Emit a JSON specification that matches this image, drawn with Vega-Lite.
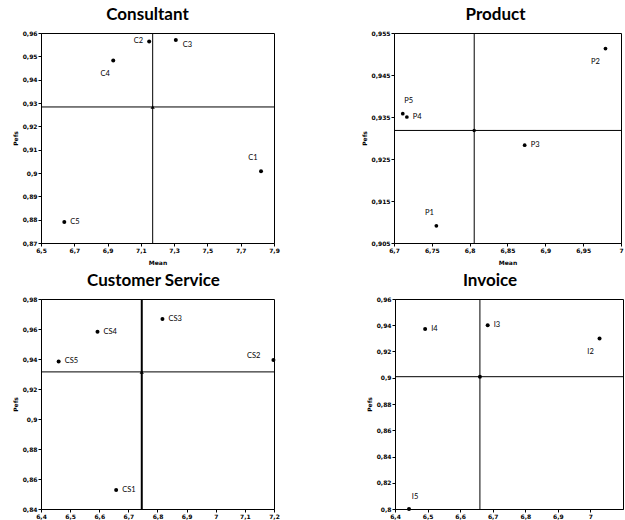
{
  "$schema": "https://vega.github.io/schema/vega-lite/v6.json",
  "padding": {"left": 11, "top": 5, "right": 0, "bottom": 0},
  "datasets": {
    "consultant": [
      {"label": "C1", "mean": 7.822, "pefs": 0.9008},
      {"label": "C2", "mean": 7.15, "pefs": 0.9564},
      {"label": "C3", "mean": 7.31, "pefs": 0.957},
      {"label": "C4", "mean": 6.934, "pefs": 0.9482},
      {"label": "C5", "mean": 6.64, "pefs": 0.879}
    ],
    "consultant_avg": [{"mean": 7.171, "pefs": 0.9283}],
    "product": [
      {"label": "P1", "mean": 6.756, "pefs": 0.9091},
      {"label": "P2", "mean": 6.9795, "pefs": 0.9513},
      {"label": "P3", "mean": 6.8727, "pefs": 0.9283},
      {"label": "P4", "mean": 6.717, "pefs": 0.935},
      {"label": "P5", "mean": 6.7116, "pefs": 0.9358}
    ],
    "product_avg": [{"mean": 6.806, "pefs": 0.9318}],
    "service": [
      {"label": "CS1", "mean": 6.658, "pefs": 0.8527},
      {"label": "CS2", "mean": 7.198, "pefs": 0.9393},
      {"label": "CS3", "mean": 6.817, "pefs": 0.9667},
      {"label": "CS4", "mean": 6.594, "pefs": 0.9582},
      {"label": "CS5", "mean": 6.4606, "pefs": 0.9384}
    ],
    "service_avg": [{"mean": 6.746, "pefs": 0.9314}],
    "invoice": [
      {"label": "I2", "mean": 7.028, "pefs": 0.9299},
      {"label": "I3", "mean": 6.6846, "pefs": 0.94},
      {"label": "I4", "mean": 6.4925, "pefs": 0.9372},
      {"label": "I5", "mean": 6.443, "pefs": 0.8}
    ],
    "invoice_avg": [{"mean": 6.6607, "pefs": 0.9008}]
  },
  "vconcat": [
    {
      "spacing": 80,
      "hconcat": [
        {
          "title": {"text": "Consultant", "dx": -10},
          "width": 233,
          "height": 210,
          "layer": [
            {
              "data": {"name": "consultant"},
              "mark": {"type": "circle", "color": "black", "size": 16, "opacity": 1},
              "encoding": {
                "x": {"field": "mean", "type": "quantitative", "title": "Mean", "scale": {"domain": [6.5, 7.9], "zero": false, "nice": false}, "axis": {"values": [6.5, 6.7, 6.9, 7.1, 7.3, 7.5, 7.7, 7.9], "tickCount": 50, "labelOverlap": false, "labelExpr": "replace(format(datum.value, '~g'), '.', ',')", "titlePadding": 6}},
                "y": {"field": "pefs", "type": "quantitative", "title": "Pefs", "scale": {"domain": [0.87, 0.96], "zero": false, "nice": false}, "axis": {"values": [0.87, 0.88, 0.89, 0.9, 0.91, 0.92, 0.93, 0.94, 0.95, 0.96], "tickCount": 50, "labelOverlap": false, "labelExpr": "replace(format(datum.value, '~g'), '.', ',')", "titlePadding": 4}}
              }
            },
            {"data": {"name": "consultant_avg"}, "mark": {"type": "rule", "color": "black", "strokeWidth": 1}, "encoding": {"x": {"field": "mean", "type": "quantitative"}}},
            {"data": {"name": "consultant_avg"}, "mark": {"type": "rule", "color": "black", "strokeWidth": 1}, "encoding": {"y": {"field": "pefs", "type": "quantitative"}}},
            {"data": {"name": "consultant_avg"}, "mark": {"type": "point", "shape": "triangle-up", "filled": true, "color": "black", "size": 18, "opacity": 1}, "encoding": {"x": {"field": "mean", "type": "quantitative"}, "y": {"field": "pefs", "type": "quantitative"}}},
            {"data": {"name": "consultant"}, "transform": [{"filter": "indexof(['C5'], datum.label) >= 0"}], "mark": {"type": "text", "align": "left", "baseline": "middle", "dx": 6}, "encoding": {"x": {"field": "mean", "type": "quantitative"}, "y": {"field": "pefs", "type": "quantitative"}, "text": {"field": "label"}}},
            {"data": {"name": "consultant"}, "transform": [{"filter": "indexof(['C2'], datum.label) >= 0"}], "mark": {"type": "text", "align": "right", "baseline": "middle", "dx": -6}, "encoding": {"x": {"field": "mean", "type": "quantitative"}, "y": {"field": "pefs", "type": "quantitative"}, "text": {"field": "label"}}},
            {"data": {"name": "consultant"}, "transform": [{"filter": "indexof(['C3'], datum.label) >= 0"}], "mark": {"type": "text", "align": "left", "baseline": "middle", "dx": 7, "dy": 5}, "encoding": {"x": {"field": "mean", "type": "quantitative"}, "y": {"field": "pefs", "type": "quantitative"}, "text": {"field": "label"}}},
            {"data": {"name": "consultant"}, "transform": [{"filter": "indexof(['C4'], datum.label) >= 0"}], "mark": {"type": "text", "align": "center", "baseline": "middle", "dx": -8, "dy": 13}, "encoding": {"x": {"field": "mean", "type": "quantitative"}, "y": {"field": "pefs", "type": "quantitative"}, "text": {"field": "label"}}},
            {"data": {"name": "consultant"}, "transform": [{"filter": "indexof(['C1'], datum.label) >= 0"}], "mark": {"type": "text", "align": "center", "baseline": "middle", "dx": -8, "dy": -13}, "encoding": {"x": {"field": "mean", "type": "quantitative"}, "y": {"field": "pefs", "type": "quantitative"}, "text": {"field": "label"}}}
          ]
        },
        {
          "title": {"text": "Product", "dx": -12},
          "width": 227,
          "height": 210,
          "layer": [
            {
              "data": {"name": "product"},
              "mark": {"type": "circle", "color": "black", "size": 14, "opacity": 1},
              "encoding": {
                "x": {"field": "mean", "type": "quantitative", "title": "Mean", "scale": {"domain": [6.7, 7.0], "zero": false, "nice": false}, "axis": {"values": [6.7, 6.75, 6.8, 6.85, 6.9, 6.95, 7], "tickCount": 50, "labelOverlap": false, "labelExpr": "replace(format(datum.value, '~g'), '.', ',')", "titlePadding": 6}},
                "y": {"field": "pefs", "type": "quantitative", "title": "Pefs", "scale": {"domain": [0.905, 0.955], "zero": false, "nice": false}, "axis": {"values": [0.905, 0.915, 0.925, 0.935, 0.945, 0.955], "tickCount": 50, "labelOverlap": false, "labelExpr": "replace(format(datum.value, '~g'), '.', ',')", "titlePadding": 4}}
              }
            },
            {"data": {"name": "product_avg"}, "mark": {"type": "rule", "color": "black", "strokeWidth": 1}, "encoding": {"x": {"field": "mean", "type": "quantitative"}}},
            {"data": {"name": "product_avg"}, "mark": {"type": "rule", "color": "black", "strokeWidth": 1}, "encoding": {"y": {"field": "pefs", "type": "quantitative"}}},
            {"data": {"name": "product_avg"}, "mark": {"type": "circle", "color": "black", "size": 12, "opacity": 1}, "encoding": {"x": {"field": "mean", "type": "quantitative"}, "y": {"field": "pefs", "type": "quantitative"}}},
            {"data": {"name": "product"}, "transform": [{"filter": "indexof(['P3', 'P4'], datum.label) >= 0"}], "mark": {"type": "text", "align": "left", "baseline": "middle", "dx": 6}, "encoding": {"x": {"field": "mean", "type": "quantitative"}, "y": {"field": "pefs", "type": "quantitative"}, "text": {"field": "label"}}},
            {"data": {"name": "product"}, "transform": [{"filter": "indexof(['P2'], datum.label) >= 0"}], "mark": {"type": "text", "align": "center", "baseline": "middle", "dx": -10, "dy": 13}, "encoding": {"x": {"field": "mean", "type": "quantitative"}, "y": {"field": "pefs", "type": "quantitative"}, "text": {"field": "label"}}},
            {"data": {"name": "product"}, "transform": [{"filter": "indexof(['P1'], datum.label) >= 0"}], "mark": {"type": "text", "align": "center", "baseline": "middle", "dx": -7, "dy": -13}, "encoding": {"x": {"field": "mean", "type": "quantitative"}, "y": {"field": "pefs", "type": "quantitative"}, "text": {"field": "label"}}},
            {"data": {"name": "product"}, "transform": [{"filter": "indexof(['P5'], datum.label) >= 0"}], "mark": {"type": "text", "align": "center", "baseline": "middle", "dx": 6, "dy": -13}, "encoding": {"x": {"field": "mean", "type": "quantitative"}, "y": {"field": "pefs", "type": "quantitative"}, "text": {"field": "label"}}}
          ]
        }
      ]
    },
    {
      "spacing": 85,
      "hconcat": [
        {
          "title": {"text": "Customer Service", "dx": -4},
          "width": 233,
          "height": 210,
          "layer": [
            {
              "data": {"name": "service"},
              "mark": {"type": "circle", "color": "black", "size": 16, "opacity": 1},
              "encoding": {
                "x": {"field": "mean", "type": "quantitative", "title": null, "scale": {"domain": [6.4, 7.2], "zero": false, "nice": false}, "axis": {"values": [6.4, 6.5, 6.6, 6.7, 6.8, 6.9, 7, 7.1, 7.2], "tickCount": 50, "labelOverlap": false, "labelExpr": "replace(format(datum.value, '~g'), '.', ',')"}},
                "y": {"field": "pefs", "type": "quantitative", "title": "Pefs", "scale": {"domain": [0.84, 0.98], "zero": false, "nice": false}, "axis": {"values": [0.84, 0.86, 0.88, 0.9, 0.92, 0.94, 0.96, 0.98], "tickCount": 50, "labelOverlap": false, "labelExpr": "replace(format(datum.value, '~g'), '.', ',')", "titlePadding": 4}}
              }
            },
            {"data": {"name": "service_avg"}, "mark": {"type": "rule", "color": "black", "strokeWidth": 2}, "encoding": {"x": {"field": "mean", "type": "quantitative"}}},
            {"data": {"name": "service_avg"}, "mark": {"type": "rule", "color": "black", "strokeWidth": 1}, "encoding": {"y": {"field": "pefs", "type": "quantitative"}}},
            {"data": {"name": "service_avg"}, "mark": {"type": "point", "shape": "triangle-up", "filled": true, "color": "black", "size": 18, "opacity": 1}, "encoding": {"x": {"field": "mean", "type": "quantitative"}, "y": {"field": "pefs", "type": "quantitative"}}},
            {"data": {"name": "service"}, "transform": [{"filter": "indexof(['CS1', 'CS3', 'CS4', 'CS5'], datum.label) >= 0"}], "mark": {"type": "text", "align": "left", "baseline": "middle", "dx": 6}, "encoding": {"x": {"field": "mean", "type": "quantitative"}, "y": {"field": "pefs", "type": "quantitative"}, "text": {"field": "label"}}},
            {"data": {"name": "service"}, "transform": [{"filter": "indexof(['CS2'], datum.label) >= 0"}], "mark": {"type": "text", "align": "right", "baseline": "middle", "dx": -13, "dy": -4}, "encoding": {"x": {"field": "mean", "type": "quantitative"}, "y": {"field": "pefs", "type": "quantitative"}, "text": {"field": "label"}}}
          ]
        },
        {
          "title": {"text": "Invoice", "dx": -19},
          "width": 228,
          "height": 210,
          "layer": [
            {
              "data": {"name": "invoice"},
              "mark": {"type": "circle", "color": "black", "size": 16, "opacity": 1},
              "encoding": {
                "x": {"field": "mean", "type": "quantitative", "title": null, "scale": {"domain": [6.4, 7.1], "zero": false, "nice": false}, "axis": {"values": [6.4, 6.5, 6.6, 6.7, 6.8, 6.9, 7], "tickCount": 50, "labelOverlap": false, "labelExpr": "replace(format(datum.value, '~g'), '.', ',')"}},
                "y": {"field": "pefs", "type": "quantitative", "title": "Pefs", "scale": {"domain": [0.8, 0.96], "zero": false, "nice": false}, "axis": {"values": [0.8, 0.82, 0.84, 0.86, 0.88, 0.9, 0.92, 0.94, 0.96], "tickCount": 50, "labelOverlap": false, "labelExpr": "replace(format(datum.value, '~g'), '.', ',')", "titlePadding": 4}}
              }
            },
            {"data": {"name": "invoice_avg"}, "mark": {"type": "rule", "color": "black", "strokeWidth": 1}, "encoding": {"x": {"field": "mean", "type": "quantitative"}}},
            {"data": {"name": "invoice_avg"}, "mark": {"type": "rule", "color": "black", "strokeWidth": 1}, "encoding": {"y": {"field": "pefs", "type": "quantitative"}}},
            {"data": {"name": "invoice_avg"}, "mark": {"type": "circle", "color": "black", "size": 16, "opacity": 1}, "encoding": {"x": {"field": "mean", "type": "quantitative"}, "y": {"field": "pefs", "type": "quantitative"}}},
            {"data": {"name": "invoice"}, "transform": [{"filter": "indexof(['I3', 'I4'], datum.label) >= 0"}], "mark": {"type": "text", "align": "left", "baseline": "middle", "dx": 6}, "encoding": {"x": {"field": "mean", "type": "quantitative"}, "y": {"field": "pefs", "type": "quantitative"}, "text": {"field": "label"}}},
            {"data": {"name": "invoice"}, "transform": [{"filter": "indexof(['I2'], datum.label) >= 0"}], "mark": {"type": "text", "align": "center", "baseline": "middle", "dx": -9, "dy": 13}, "encoding": {"x": {"field": "mean", "type": "quantitative"}, "y": {"field": "pefs", "type": "quantitative"}, "text": {"field": "label"}}},
            {"data": {"name": "invoice"}, "transform": [{"filter": "indexof(['I5'], datum.label) >= 0"}], "mark": {"type": "text", "align": "center", "baseline": "middle", "dx": 6, "dy": -12}, "encoding": {"x": {"field": "mean", "type": "quantitative"}, "y": {"field": "pefs", "type": "quantitative"}, "text": {"field": "label"}}}
          ]
        }
      ]
    }
  ],
  "spacing": 5,
  "config": {
    "font": "Lato",
    "view": {"stroke": "black", "strokeWidth": 1},
    "axis": {"grid": false, "domainColor": "black", "domainWidth": 1, "tickColor": "black", "labelColor": "black", "labelFont": "DejaVu Sans", "labelFontSize": 6, "labelFontWeight": "bold", "titleFont": "DejaVu Sans", "titleFontSize": 6, "titleFontWeight": "bold", "titleColor": "black", "tickSize": 3, "labelPadding": 1, "labelFlush": false, "labelBound": false},
    "title": {"font": "Lato", "fontSize": 17, "fontWeight": "bold", "color": "black", "offset": 6},
    "text": {"font": "Lato", "fontSize": 7.5, "color": "black", "fill": "black"}
  }
}
